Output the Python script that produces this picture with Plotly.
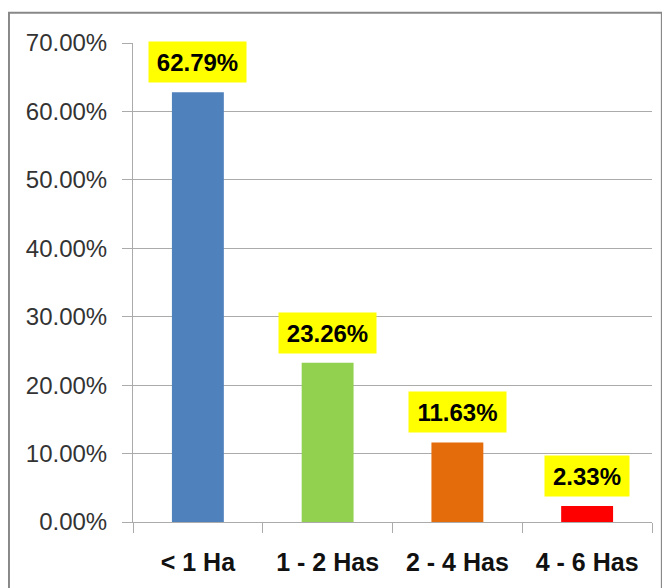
import plotly.graph_objects as go

# data
categories = ["< 1 Ha", "1 - 2 Has", "2 - 4 Has", "4 - 6 Has"]
shares = [62.79, 23.26, 11.63, 2.33]
bar_colors = ["#4F81BD", "#92D050", "#E46C0A", "#FF0000"]
y_ticks = [0, 10, 20, 30, 40, 50, 60, 70]
y_tick_labels = [f"{v:.2f}%" for v in y_ticks]
value_labels = [f"{v:.2f}%" for v in shares]

GRID = "#ABABAB"
FONT = "Liberation Sans, Arial, sans-serif"

fig = go.Figure()
fig.add_bar(x=categories, y=shares, marker_color=bar_colors,
            marker_line_width=0, width=0.4)

# yellow value boxes above each bar
for cat, val, lbl in zip(categories, shares, value_labels):
    fig.add_annotation(x=cat, y=val, text=f"<b>{lbl}</b>", showarrow=False,
                       yanchor="bottom", yshift=9, bgcolor="#FFFF00",
                       borderpad=7, height=26, width=13 * len(lbl) + 5,
                       font=dict(size=24, color="#000000", family=FONT))

# outer chart frame (Excel style)
fig.add_shape(type="rect", xref="paper", yref="paper",
              x0=-0.239, x1=1.019, y0=-0.25, y1=1.063,
              line=dict(color="#888888", width=2), fillcolor="rgba(0,0,0,0)",
              layer="below")

# page body has an 8px margin, so the figure is 8px smaller and offsets shift
fig.update_layout(
    width=662, height=580,
    margin=dict(l=125, r=18, t=35, b=66),
    paper_bgcolor="#FFFFFF", plot_bgcolor="#FFFFFF",
    showlegend=False,
    font=dict(family=FONT, color="#404040"),
    bargap=0.6,
)
fig.update_yaxes(range=[0, 70], tickvals=y_ticks, ticktext=y_tick_labels,
                 showgrid=True, gridcolor=GRID, gridwidth=1,
                 showline=True, linecolor=GRID, linewidth=1,
                 ticks="outside", ticklen=10, tickcolor=GRID,
                 ticklabelstandoff=10, zeroline=False, automargin=False,
                 tickfont=dict(size=24, color="#333333", family=FONT))
fig.update_xaxes(showline=True, linecolor=GRID, linewidth=1,
                 ticks="outside", ticklen=10, tickcolor=GRID,
                 tickson="boundaries", showgrid=False, automargin=False,
                 ticklabelstandoff=18,
                 tickfont=dict(size=25, color="#111111", family=FONT),
                 tickprefix="<b>", ticksuffix="</b>")

fig.write_html("out.html")
